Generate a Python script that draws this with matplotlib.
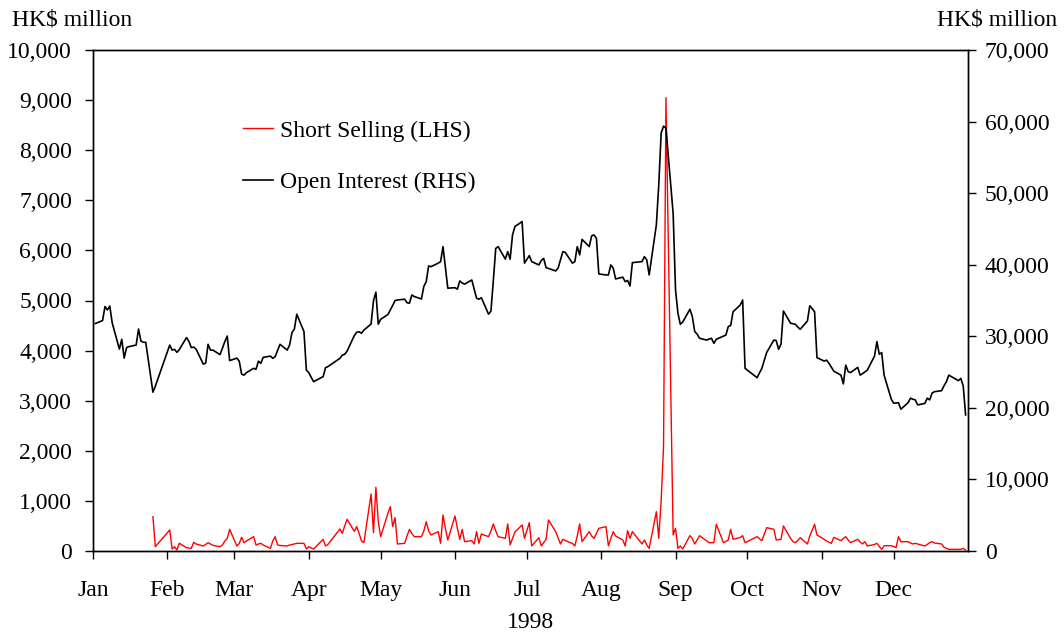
import matplotlib.pyplot as plt
import matplotlib.ticker as mticker
import numpy as np
import pandas as pd

plt.rcParams['font.family'] = ['Liberation Serif', 'DejaVu Serif']
plt.rcParams['font.size'] = 17

nan = np.nan

# HK market holidays 1998 (weekdays only)
holidays = ['1998-01-01', '1998-01-28', '1998-01-29', '1998-01-30',
            '1998-04-06', '1998-04-10', '1998-04-13', '1998-07-01',
            '1998-08-17', '1998-10-01', '1998-10-02', '1998-10-06',
            '1998-10-28', '1998-12-25']

# Open interest (HK$ million, right axis), one value per trading day
oi_jan = [31780, 32200, 34160, 33670, 34230, 31890, 28210, 29580, 26950, 28420,
          28560, 28770, 31010, 29330, 29160, 29160, 22190, 23030]
oi_feb = [28770, 28070, 28180, 27760, 28140, 29820, 29300, 28420, 28490, 28210,
          26110, 26250, 28880, 28070, 28070, 27440, 28350, 29260, 30030, 26600]
oi_mar = [26950, 26530, 24710, 24570, 24920, 25520, 25380, 26530, 26220, 27060,
          27230, 26920, 27160, 28000, 28880, 28070, 28770, 30520, 31010, 33080,
          30660, 25270]
oi_apr = [24920, 24290, 23660, 24360, 25620, 25760, 26920, 27370, 27480, 27930,
          30100, 30560, 30630, 30420, 30870, 31710, 34970, 36160, 31680]
oi_may = [32380, 33040, 33670, 34300, 35000, 35070, 35180, 34690, 34620, 35770,
          35560, 35210, 36960, 37630, 39830, 39730, 40220, 40430, 42530, 39620,
          36720]
oi_jun = [36790, 36580, 37730, 37450, 37280, 37870, 36610, 35320, 35180, 35390,
          33080, 33530, 37800, 42280, 42530, 40780, 41830, 40780, 44170, 45330,
          46030, 40220]
oi_jul = [41270, 40430, 39970, 40600, 40880, 39590, 39480, 39130, 39520, 40670,
          41830, 41720, 40220, 40430, 42530, 41370, 43540, 42530, 44030, 44170,
          43680, 38710]
oi_aug = [38570, 38570, 39970, 39520, 38010, 38260, 37630, 37800, 37030, 40290,
          40430, 41130, 40670, 38570, 45570, 51140, 58380, 59360, 59080, 47180]
oi_sep = [36470, 33220, 31680, 31990, 33780, 32760, 30660, 30310, 29720, 29470,
          29610, 29720, 29020, 29580, 30030, 30170, 31360, 31500, 33430, 34370,
          35070, 25520]
oi_oct = [24220, 25520, 26600, 27720, 29470, 29400, 28180, 28910, 33530, 31820,
          31750, 31680, 31290, 30980, 32130, 34270, 33430, 27020]
oi_nov = [26530, 26670, 26220, 25690, 25130, 24570, 23350, 25970, 25060, 24920,
          25660, 24570, 24780, 25030, 25270, 27230, 29260, 27480, 27720, 24570,
          21210]
oi_dec = [20650, 20690, 20720, 19810, 20720, 21350, 21210, 21110, 20410, 20620,
          21350, 21110, 22050, 22260, 22400, 23100, 23660, 24570, 23800, 24120,
          23070, 19010]

# Short selling (HK$ million, left axis)
ss_jan = [nan, nan, nan, nan, nan, nan, nan, nan, nan, nan,
          nan, nan, nan, nan, nan, nan, 685, 86]
ss_feb = [420, 40, 86, 20, 154, 66, 60, 53, 173, 140,
          100, 130, 166, 140, 113, 86, 120, 200, 250, 433]
ss_mar = [100, 150, 273, 166, 200, 286, 120, 140, 153, 120,
          53, 200, 286, 120, 110, 100, 120, 130, 140, 153, 153, 40]
ss_apr = [86, 60, 40, 233, 100, 130, 440, 353, 500, 633,
          393, 486, 350, 200, 166, 1138, 366, 1271, 590]
ss_may = [286, 750, 885, 486, 666, 140, 153, 300, 433, 350,
          286, 286, 400, 585, 400, 320, 386, 153, 719, 450, 220]
ss_jun = [699, 450, 233, 433, 186, 206, 140, 386, 153, 339,
          286, 400, 539, 400, 286, 253, 539, 120, 250, 380, 519, 253]
ss_jul = [566, 100, 266, 100, 170, 233, 619, 386, 260, 140,
          233, 210, 150, 100, 300, 539, 186, 386, 300, 253, 350, 453]
ss_aug = [486, 100, 250, 386, 300, 220, 100, 406, 253, 386,
          140, 220, 120, 53, 785, 253, 1000, 2100, 9050, 320]
ss_sep = [453, 53, 100, 40, 306, 250, 140, 220, 306, 200,
          166, 166, 166, 533, 166, 190, 220, 433, 233, 270, 306, 166]
ss_oct = [286, 206, 330, 466, 433, 220, 225, 233, 499, 250,
          186, 166, 210, 266, 140, 300, 533, 320]
ss_nov = [233, 200, 175, 153, 273, 206, 250, 286, 220, 166,
          233, 180, 140, 186, 100, 130, 153, 90, 33, 106, 106]
ss_dec = [90, 66, 286, 186, 186, 160, 140, 153, 140, 100,
          130, 166, 186, 160, 140, 73, 53, 33, 33, 33, 53, 20]

month_labels = ['Jan', 'Feb', 'Mar', 'Apr', 'May', 'Jun',
                'Jul', 'Aug', 'Sep', 'Oct', 'Nov', 'Dec']

oi_months = [oi_jan, oi_feb, oi_mar, oi_apr, oi_may, oi_jun,
             oi_jul, oi_aug, oi_sep, oi_oct, oi_nov, oi_dec]
ss_months = [ss_jan, ss_feb, ss_mar, ss_apr, ss_may, ss_jun,
             ss_jul, ss_aug, ss_sep, ss_oct, ss_nov, ss_dec]

days = pd.bdate_range('1998-01-01', '1998-12-31')
days = days[~days.isin(pd.to_datetime(holidays))]

dates, oi, ss = [], [], []
for m in range(12):
    md = days[days.month == m + 1]
    n = min(len(md), len(oi_months[m]), len(ss_months[m]))
    dates.extend(md[:n])
    oi.extend(oi_months[m][:n])
    ss.extend(ss_months[m][:n])

W, H = 1064, 635
fig = plt.figure(figsize=(W / 100, H / 100), dpi=100)
ax = fig.add_axes([93 / W, 1 - 551 / H, 875 / W, 501 / H])
ax2 = ax.twinx()

l1, = ax.plot(dates, ss, color='#ff0000', lw=1.0)
l2, = ax2.plot(dates, oi, color='black', lw=1.2)

ax.set_xlim(pd.Timestamp('1998-01-01'), pd.Timestamp('1999-01-01'))
ax.set_ylim(0, 10000)
ax2.set_ylim(0, 70000)

ax.set_xticks(pd.date_range('1998-01-01', periods=12, freq='MS'))
ax.set_xticklabels(month_labels)
ax.set_yticks(np.arange(0, 10001, 1000))
ax2.set_yticks(np.arange(0, 70001, 10000))
fmt = mticker.StrMethodFormatter('{x:,.0f}')
ax.yaxis.set_major_formatter(fmt)
ax2.yaxis.set_major_formatter(fmt)

ax.tick_params(axis='x', direction='out', length=6, width=1, pad=15)
ax.tick_params(axis='y', direction='out', length=6, width=1, pad=9)
ax2.tick_params(axis='y', direction='out', length=6, width=1, pad=6)
for a in (ax, ax2):
    for s in a.spines.values():
        s.set_linewidth(1.0)

ax.set_xlabel('1998', labelpad=8)

fig.text(12 / W, 1 - 20 / H, 'HK$ million', ha='left', va='center')
fig.text(1057 / W, 1 - 20 / H, 'HK$ million', ha='right', va='center')

ax2.legend([l1, l2], ['Short Selling (LHS)', 'Open Interest (RHS)'],
           loc='upper left', bbox_to_anchor=(243 / W, 1 - 120 / H),
           bbox_transform=fig.transFigure, frameon=False, borderpad=0,
           borderaxespad=0, handlelength=1.27, handletextpad=0.3,
           labelspacing=1.28)

fig.savefig('out.png', dpi=100)
